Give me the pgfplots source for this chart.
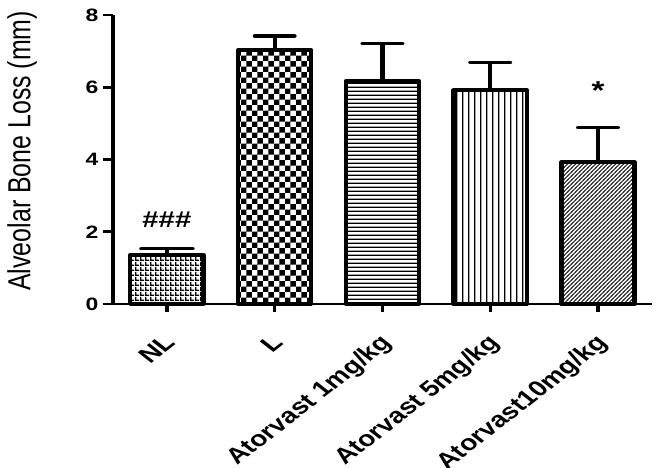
\documentclass[border=0pt]{standalone}
\usepackage{fontspec}
\setmainfont{Liberation Sans}
\usepackage{graphicx}
\usepackage{pgfplots}
\pgfplotsset{compat=1.18}
\usetikzlibrary{patterns}

% fill patterns of the five bars
\pgfdeclarepatternformonly{finegrid}{\pgfpointorigin}{\pgfpoint{4.5bp}{4.5bp}}{\pgfpoint{4.5bp}{4.5bp}}{%
  \pgfpathrectangle{\pgfpointorigin}{\pgfpoint{4.5bp}{1.6bp}}%
  \pgfpathrectangle{\pgfpointorigin}{\pgfpoint{1.6bp}{4.5bp}}%
  \pgfusepath{fill}}
\pgfdeclarepatternformonly{bigcheck}{\pgfpointorigin}{\pgfpoint{11bp}{11bp}}{\pgfpoint{11bp}{11bp}}{%
  \pgfpathrectangle{\pgfpointorigin}{\pgfpoint{5.5bp}{5.5bp}}%
  \pgfpathrectangle{\pgfpoint{5.5bp}{5.5bp}}{\pgfpoint{5.5bp}{5.5bp}}%
  \pgfusepath{fill}}
\pgfdeclarepatternformonly{hlines}{\pgfpointorigin}{\pgfpoint{4bp}{4bp}}{\pgfpoint{4bp}{4bp}}{%
  \pgfpathrectangle{\pgfpointorigin}{\pgfpoint{4bp}{1.3bp}}%
  \pgfusepath{fill}}
\pgfdeclarepatternformonly{vlines}{\pgfpointorigin}{\pgfpoint{5.5bp}{5bp}}{\pgfpoint{5.5bp}{5bp}}{%
  \pgfpathrectangle{\pgfpointorigin}{\pgfpoint{1.4bp}{5bp}}%
  \pgfusepath{fill}}
\pgfdeclarepatternformonly{dlines}{\pgfpoint{-1bp}{-1bp}}{\pgfpoint{5bp}{5bp}}{\pgfpoint{4bp}{4bp}}{%
  \pgfsetlinewidth{1bp}%
  \pgfpathmoveto{\pgfpoint{-1bp}{-1bp}}\pgfpathlineto{\pgfpoint{5bp}{5bp}}%
  \pgfusepath{stroke}}

\pgfplotsset{
  gbar/.style={draw=black, line width=3.4bp, line join=round,
    error bars/y dir=plus, error bars/y explicit,
    error bars/error bar style={line width=3.4bp, black},
    error bars/error mark options={rotate=90, line width=3.4bp, line cap=round, mark size=15.5bp, black}},
}

\begin{document}
\scalebox{1.28}[1]{%
\begin{tikzpicture}
\begin{axis}[
  scale only axis, width=421bp, height=289bp,
  xmin=-0.5, xmax=4.5, ymin=0, ymax=8,
  axis lines=left, axis line style={-, line width=2.6bp},
  ybar, bar width=0.68, bar shift=0,
  xtick={0,1,2,3,4},
  xticklabels={NL, L, Atorvast 1mg/kg, Atorvast 5mg/kg, Atorvast10mg/kg},
  ytick={0,2,4,6,8},
  tick align=outside, major tick length=8bp,
  tick style={line width=2.6bp, black},
  /pgf/number format/assume math mode=true,
  yticklabel style={font=\fontsize{18}{18}\selectfont\bfseries},
  xticklabel style={font=\fontsize{22}{22}\selectfont\bfseries,
    xshift=-3bp, yshift=-21bp, rotate=45, anchor=north east, inner sep=0pt},
  ylabel={Alveolar Bone Loss (mm)},
  ylabel style={font=\fontsize{25}{25}\selectfont,
    at={(rel axis cs:0,0.53)}, yshift=71bp, anchor=center},
  clip=false,
]
  \addplot[gbar, pattern=finegrid,
    error bars/error mark options={rotate=90, line width=3.4bp, line cap=round, mark size=20bp, black}]
    coordinates {(0,1.36) += (0,0.17)};
  \addplot[gbar, pattern=bigcheck] coordinates {(1,7.03) += (0,0.39)};
  \addplot[gbar, pattern=hlines]   coordinates {(2,6.17) += (0,1.04)};
  \addplot[gbar, pattern=vlines]   coordinates {(3,5.92) += (0,0.77)};
  \addplot[gbar, pattern=dlines, pattern color=black!80]
    coordinates {(4,3.93) += (0,0.95)};
  \node[font=\fontsize{23}{23}\selectfont\bfseries] at (axis cs:0,2.34) {\#\#\#};
  \node[font=\fontsize{26}{26}\selectfont\bfseries, anchor=north, inner sep=0pt]
    at (axis cs:4,6.15) {*};
\end{axis}
\pgfresetboundingbox
\path[use as bounding box] (-88.3bp,-163.7bp) rectangle (428.9bp,304bp);
\end{tikzpicture}%
}
\end{document}
